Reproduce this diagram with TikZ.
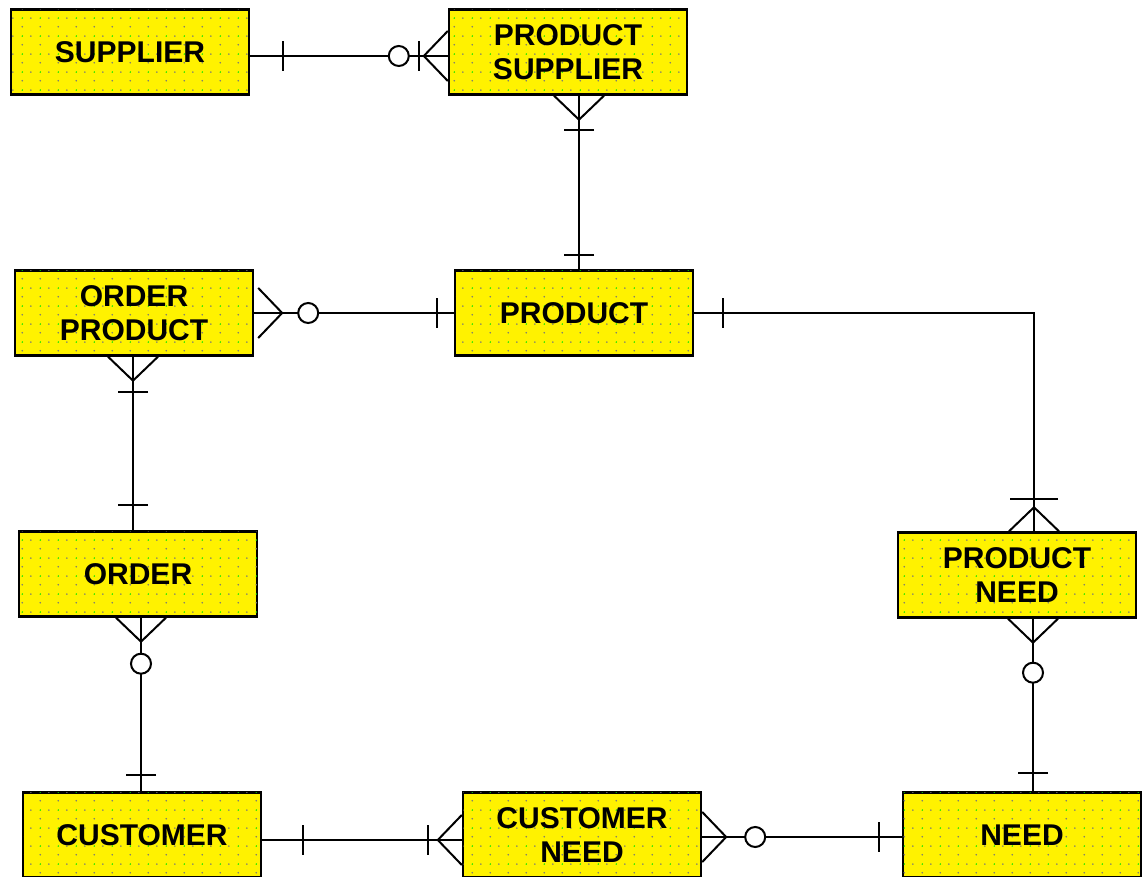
\documentclass[tikz,border=0pt]{standalone}
\usepackage{fontspec}
\setmainfont{Liberation Sans}
\usepackage{tikz}
\usetikzlibrary{calc,patterns}
\definecolor{dotgray}{RGB}{120,120,120}
\definecolor{dotgreen}{RGB}{0,230,0}
\pgfdeclarepatterninherentlycolored{erdots}{\pgfpointorigin}{\pgfpoint{18pt}{18pt}}{\pgfpoint{18pt}{18pt}}{
    \pgfsetfillcolor{dotgray}
    \pgfpathcircle{\pgfpoint{4.5pt}{4.5pt}}{0.9pt}
    \pgfpathcircle{\pgfpoint{13.5pt}{13.5pt}}{0.9pt}
    \pgfusepath{fill}
    \pgfsetfillcolor{dotgreen}
    \pgfpathcircle{\pgfpoint{4.5pt}{13.5pt}}{0.9pt}
    \pgfusepath{fill}
}
\tikzset{
    entity/.style = {rectangle, minimum width=238pt, minimum height=85pt, align=center, draw=black, line width=2.4pt, fill=yellow, postaction={pattern=erdots}, font=\bfseries\fontsize{30}{34}\selectfont},
    rel/.style = {draw=black, line width=2pt},
    one/.pic = {\draw[rel] (0,-15) -- (0,15);},
    zero/.pic = {\draw[rel, fill=white] (0,0) circle (10pt);},
    many/.pic = {\draw[rel] (0,25) -- (24,0) -- (0,-25);}
}

\begin{document}
\begin{tikzpicture}[x=1pt, y=1pt]
    \useasboundingbox (0,0) rectangle (1145,877);

    \node [entity] (sup) at (130,825) {SUPPLIER};
    \node [entity] (psup) at (568,825) {PRODUCT\\SUPPLIER};
    \node [entity] (oprod) at (134,564) {ORDER\\PRODUCT};
    \node [entity] (prod) at (574,564) {PRODUCT};
    \node [entity] (ord) at (138,303) {ORDER};
    \node [entity] (pneed) at (1017,302) {PRODUCT\\NEED};
    \node [entity] (cust) at (142,42) {CUSTOMER};
    \node [entity] (cneed) at (582,42) {CUSTOMER\\NEED};
    \node [entity] (need) at (1022,42) {NEED};

    % supplier - product supplier
    \draw [rel] ([yshift=-4pt]sup.east) -- ([yshift=-4pt]psup.west);
    \pic at ($(sup.east)+(33,-4)$) {one};
    \pic [rotate=180] at ([yshift=-4pt]psup.west) {many};
    \pic at ($(psup.west)+(-29,-4)$) {one};
    \pic at ($(psup.west)+(-49,-4)$) {zero};

    % product supplier - product
    \draw [rel] ([xshift=5pt]prod.north) -- ([xshift=5pt]prod.north |- psup.south);
    \pic [rotate=-90] at ([xshift=11pt]psup.south) {many};
    \pic [rotate=90] at ($(psup.south)+(11,-34)$) {one};
    \pic [rotate=90] at ($(prod.north)+(5,14)$) {one};

    % order product - product
    \draw [rel] (oprod.east) -- (prod.west);
    \pic at ($(oprod.east)+(4,0)$) {many};
    \pic at ($(oprod.east)+(54,0)$) {zero};
    \pic at ($(prod.west)+(-17,0)$) {one};

    % order product - order
    \draw [rel] ([xshift=-5pt]ord.north) -- ([xshift=-5pt]ord.north |- oprod.south);
    \pic [rotate=-90] at ([xshift=-1pt]oprod.south) {many};
    \pic [rotate=90] at ($(oprod.south)+(-1,-35)$) {one};
    \pic [rotate=90] at ($(ord.north)+(-5,25)$) {one};

    % order - customer
    \draw [rel] ([xshift=-1pt]cust.north) -- ([xshift=-1pt]cust.north |- ord.south);
    \pic [rotate=-90] at ([xshift=3pt]ord.south) {many};
    \pic at ($(ord.south)+(3,-46)$) {zero};
    \pic [rotate=90] at ($(cust.north)+(-1,16)$) {one};

    % product - product need
    \draw [rel] (prod.east) -| ([xshift=17pt]pneed.north);
    \pic at ($(prod.east)+(29,0)$) {one};
    \pic [rotate=90] at ([xshift=17pt]pneed.north) {many};
    \pic [rotate=90, yscale=1.6] at ($(pneed.north)+(17,32)$) {one};

    % product need - need
    \draw [rel] ([xshift=11pt]need.north) -- ([xshift=11pt]need.north |- pneed.south);
    \pic [rotate=-90] at ([xshift=16pt]pneed.south) {many};
    \pic at ($(pneed.south)+(16,-54)$) {zero};
    \pic [rotate=90] at ($(need.north)+(11,18)$) {one};

    % customer - customer need
    \draw [rel] ([yshift=-5pt]cust.east) -- ([yshift=-5pt]cneed.west);
    \pic at ($(cust.east)+(41,-5)$) {one};
    \pic [rotate=180] at ([yshift=-5pt]cneed.west) {many};
    \pic at ($(cneed.west)+(-34,-5)$) {one};

    % customer need - need
    \draw [rel] ([yshift=-2pt]cneed.east) -- ([yshift=-2pt]need.west);
    \pic at ([yshift=-2pt]cneed.east) {many};
    \pic at ($(cneed.east)+(53,-2)$) {zero};
    \pic at ($(need.west)+(-23,-2)$) {one};
\end{tikzpicture}
\end{document}
